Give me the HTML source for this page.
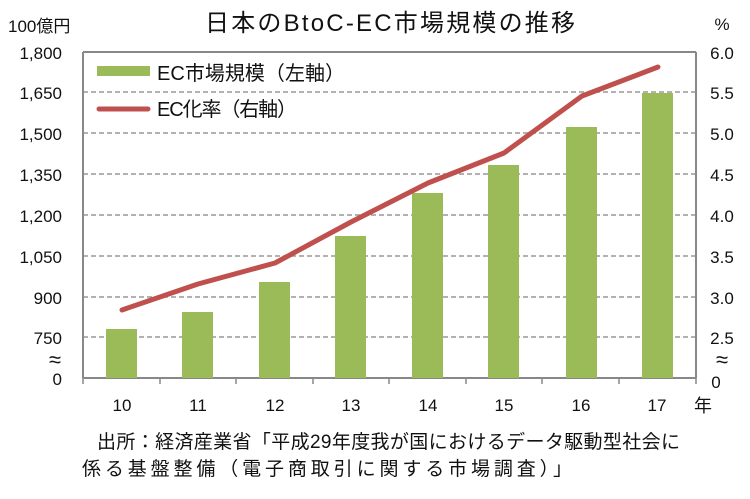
<!DOCTYPE html>
<html><head><meta charset="utf-8"><style>
body{margin:0;background:#fff}
svg text{font-family:"Liberation Sans","Noto Sans CJK JP",sans-serif;fill:#111}
</style></head><body>
<svg width="750" height="494" xmlns="http://www.w3.org/2000/svg">
<rect width="750" height="494" fill="#fff"/>
<text x="390" y="31" font-size="24" text-anchor="middle" textLength="370" lengthAdjust="spacing">日本のBtoC-EC市場規模の推移</text>
<text x="8" y="32" font-size="17">100億円</text>
<text x="722" y="30" font-size="17" text-anchor="middle">%</text>
<g stroke="#999" stroke-width="1.5" stroke-dasharray="5,3">
<line x1="83" x2="696" y1="92" y2="92"/><line x1="83" x2="696" y1="133" y2="133"/>
<line x1="83" x2="696" y1="174" y2="174"/><line x1="83" x2="696" y1="215" y2="215"/>
<line x1="83" x2="696" y1="256" y2="256"/><line x1="83" x2="696" y1="297" y2="297"/>
<line x1="83" x2="696" y1="337" y2="337"/>
</g>
<line x1="83" x2="696" y1="52" y2="52" stroke="#888" stroke-width="2"/>
<line x1="83" x2="83" y1="52" y2="378" stroke="#888" stroke-width="2"/>
<line x1="696" x2="696" y1="52" y2="378" stroke="#888" stroke-width="2"/>
<line x1="83" x2="696" y1="378" y2="378" stroke="#888" stroke-width="2"/>
<g stroke="#888" stroke-width="1.5">
<line x1="160" x2="160" y1="378" y2="384"/><line x1="236" x2="236" y1="378" y2="384"/>
<line x1="313" x2="313" y1="378" y2="384"/><line x1="389" x2="389" y1="378" y2="384"/>
<line x1="466" x2="466" y1="378" y2="384"/><line x1="542" x2="542" y1="378" y2="384"/>
<line x1="619" x2="619" y1="378" y2="384"/><line x1="83" x2="83" y1="378" y2="384"/><line x1="696" x2="696" y1="378" y2="384"/>
</g>
<g fill="#9bbb59">
<rect x="106" y="329" width="31" height="49"/>
<rect x="182" y="312" width="31" height="66"/>
<rect x="259" y="282" width="31" height="96"/>
<rect x="335" y="236" width="31" height="142"/>
<rect x="412" y="193" width="31" height="185"/>
<rect x="488" y="165" width="31" height="213"/>
<rect x="566" y="127" width="31" height="251"/>
<rect x="642" y="93" width="31" height="285"/>
</g>
<polyline points="122,310 198,284 275,263 351,222 428,183 504,153 582,96 658,67" fill="none" stroke="#c0504d" stroke-width="5" stroke-linecap="round" stroke-linejoin="round"/>
<rect x="97" y="66" width="53" height="10" fill="#9bbb59"/>
<text x="157" y="80" font-size="20" textLength="188" lengthAdjust="spacing">EC市場規模（左軸）</text>
<line x1="99" x2="148" y1="109" y2="109" stroke="#c0504d" stroke-width="5" stroke-linecap="round"/>
<text x="157" y="116" font-size="20" textLength="140" lengthAdjust="spacing">EC化率（右軸）</text>
<g font-size="17" text-anchor="end">
<text x="62" y="59">1,800</text><text x="62" y="99">1,650</text><text x="62" y="140">1,500</text>
<text x="62" y="181">1,350</text><text x="62" y="222">1,200</text><text x="62" y="263">1,050</text>
<text x="62" y="304">900</text><text x="62" y="344">750</text><text x="62" y="385">0</text>
</g>
<text x="55" y="367" font-size="22" text-anchor="middle">≈</text>
<text x="722" y="367" font-size="22" text-anchor="middle">≈</text>
<g font-size="17" text-anchor="middle">
<text x="722" y="59">6.0</text><text x="722" y="99">5.5</text><text x="722" y="140">5.0</text>
<text x="722" y="181">4.5</text><text x="722" y="222">4.0</text><text x="722" y="263">3.5</text>
<text x="722" y="304">3.0</text><text x="722" y="344">2.5</text><text x="716" y="388">0</text>
</g>
<g font-size="17" text-anchor="middle">
<text x="122" y="411">10</text><text x="198" y="411">11</text><text x="275" y="411">12</text>
<text x="351" y="411">13</text><text x="428" y="411">14</text><text x="504" y="411">15</text>
<text x="581" y="411">16</text><text x="657" y="411">17</text>
</g>
<text x="694" y="412" font-size="18">年</text>
<text x="97" y="448" font-size="19" textLength="583" lengthAdjust="spacing">出所：経済産業省「平成29年度我が国におけるデータ駆動型社会に</text>
<text x="82" y="475" font-size="19" textLength="490" lengthAdjust="spacing">係る基盤整備（電子商取引に関する市場調査）」</text>
</svg>
</body></html>
